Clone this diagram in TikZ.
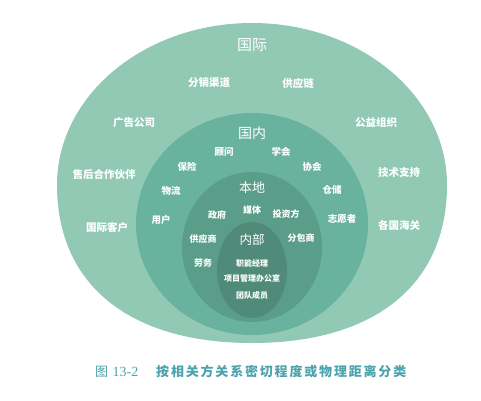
\documentclass[tikz,border=0pt]{standalone}
\usepackage{fontspec}
\newfontfamily\cjk{Noto Sans CJK SC}
\newfontfamily\capserif{Liberation Serif}
\definecolor{ringA}{HTML}{91C9B5}
\definecolor{ringB}{HTML}{69B29D}
\definecolor{ringC}{HTML}{5A9D88}
\definecolor{ringD}{HTML}{4F8B78}
\definecolor{capcol}{HTML}{4AA3AD}
\tikzset{
  lbl/.style={text=white,inner sep=0pt,font=\cjk\bfseries},
  lblA/.style={lbl,font=\cjk\bfseries\fontsize{10.5}{12}\selectfont},
  lblB/.style={lbl,font=\cjk\bfseries\fontsize{9.5}{11}\selectfont},
  lblC/.style={lbl,font=\cjk\bfseries\fontsize{9}{10}\selectfont},
  lblD/.style={lbl,font=\cjk\bfseries\fontsize{8}{9}\selectfont},
  ttl/.style={text=white,inner sep=0pt},
}
\begin{document}
\begin{tikzpicture}[x=1pt,y=-1pt]
\useasboundingbox (0,0) rectangle (481,400);
% outer region
\fill[ringA] (57,185) .. controls (57,95.5) and (144.3,23) .. (252,23)
  .. controls (359.7,23) and (447,95.5) .. (447,185)
  .. controls (447,284.5) and (374.9,343) .. (252,343)
  .. controls (129.1,343) and (57,284.5) .. (57,185) -- cycle;
\fill[ringB] (252,224) ellipse [x radius=116, y radius=111];
\fill[ringC] (252,247) ellipse [x radius=70, y radius=75];
\fill[ringD] (252,270) ellipse [x radius=35, y radius=48];
% titles
\node[ttl,font=\cjk\fontsize{15}{17}\selectfont] (gj) at (252,45) {国际};
\node[ttl,font=\cjk\fontsize{14}{16}\selectfont] (gn) at (252,133) {国内};
\node[ttl,font=\cjk\fontsize{13}{15}\selectfont] (bd) at (252,188) {本地};
\node[ttl,font=\cjk\fontsize{12.5}{14}\selectfont] (nb) at (252,240) {内部};
% international
\node[lblA] (a1) at (209,83) {分销渠道};
\node[lblA] (a2) at (298,83) {供应链};
\node[lblA] (a3) at (134,123) {广告公司};
\node[lblA] (a4) at (376,122) {公益组织};
\node[lblA] (a5) at (104,174) {售后合作伙伴};
\node[lblA] (a6) at (399,173) {技术支持};
\node[lblA] (a7) at (107,227) {国际客户};
\node[lblA] (a8) at (399,225) {各国海关};
% domestic
\node[lblB] (b1) at (224,152) {顾问};
\node[lblB] (b2) at (281,152) {学会};
\node[lblB] (b3) at (187,167) {保险};
\node[lblB] (b4) at (312,167) {协会};
\node[lblB] (b5) at (171,191) {物流};
\node[lblB] (b6) at (332,190) {仓储};
\node[lblB] (b7) at (161,220) {用户};
\node[lblB] (b8) at (342,219) {志愿者};
% local
\node[lblC] (c1) at (217,215) {政府};
\node[lblC] (c2) at (252,210) {媒体};
\node[lblC] (c3) at (286,214) {投资方};
\node[lblC] (c4) at (203,239) {供应商};
\node[lblC] (c5) at (301,238) {分包商};
\node[lblC] (c6) at (203,263) {劳务};
% internal
\node[lblD] (d1) at (252,263) {职能经理};
\node[lblD] (d2) at (252,278) {项目管理办公室};
\node[lblD] (d3) at (252,295) {团队成员};
% caption
\node[inner sep=0pt,anchor=west,text=capcol,font=\cjk\fontsize{13}{15}\selectfont] (cap1) at (95,372) {图};
\node[inner sep=0pt,anchor=west,text=capcol,font=\capserif\fontsize{14}{16}\selectfont] (cap2) at (112.5,372) {13-2};
\node[inner sep=0pt,anchor=west,text=capcol,font=\cjk\bfseries\fontsize{13}{15}\selectfont\addfontfeature{LetterSpace=14}] (cap3) at (156,372) {按相关方关系密切程度或物理距离分类};
\end{tikzpicture}
\end{document}
